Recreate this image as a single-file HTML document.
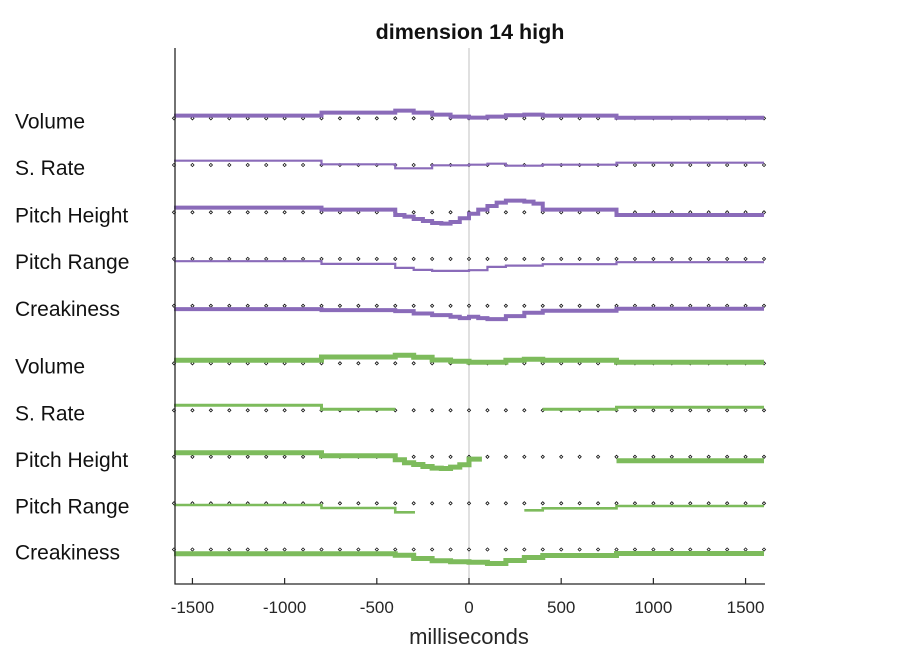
<!DOCTYPE html>
<html><head><meta charset="utf-8"><style>
body{margin:0;background:#fff;}
svg{display:block;font-family:"Liberation Sans",Arial,sans-serif;}
</style></head><body>
<svg id="chart" width="906" height="656" viewBox="0 0 906 656" xmlns="http://www.w3.org/2000/svg">
<rect width="906" height="656" fill="#fff"/>
<text x="470" y="39" text-anchor="middle" font-size="21.5" font-weight="bold" fill="#111">dimension 14 high</text>
<line x1="469" y1="48" x2="469" y2="584" stroke="#cccccc" stroke-width="1.2"/>
<g id="labels"></g>
<g id="dots"></g>
<g id="series"></g>
<line x1="175" y1="48" x2="175" y2="584.5" stroke="#262626" stroke-width="1.3"/>
<line x1="174.5" y1="584" x2="765" y2="584" stroke="#262626" stroke-width="1.3"/>
<g id="xticks"></g>
<text x="469" y="644" text-anchor="middle" font-size="22" fill="#262626">milliseconds</text>
</svg>
<script>
const NS="http://www.w3.org/2000/svg";
const xTicks=[-1500,-1000,-500,0,500,1000,1500];
const rowLabels=["Volume","S. Rate","Pitch Height","Pitch Range","Creakiness","Volume","S. Rate","Pitch Height","Pitch Range","Creakiness"];
// step series: start times (ms) and values (offset units above baseline; null = gap)
const pVolT=[-1600,-800,-400,-300,-200,-100,0,100,200,300,400,800];
const pVolV=[2.7,5.7,7.7,5.7,3.7,1.7,0.7,1.7,3,3.7,2.7,0.5];
const pRateT=[-1600,-800,-400,-200,0,100,200,400,800];
const pRateV=[4.3,0.7,-3.3,-0.3,0.3,1.3,-0.7,0.3,2.3];
const pPitchT=[-1600,-800,-400,-350,-300,-250,-200,-150,-100,-50,0,50,100,150,200,300,350,400,800];
const pPitchV=[4.7,2.7,-2.7,-4.3,-6.7,-8.7,-10.7,-11.3,-9.7,-6,-1.5,2.7,6.3,9.7,11.7,10.7,8.7,2.7,-2.7];
const pRangeT=[-1600,-800,-400,-300,-200,0,100,200,400,800];
const pRangeV=[-2.3,-5,-9,-11,-12,-11.3,-8,-6.7,-5.3,-3.3];
const pCreakT=[-1600,-800,-400,-300,-200,-100,-50,0,50,100,200,300,400,800];
const pCreakV=[-3.3,-4.3,-5.3,-7.7,-9.3,-11,-12.3,-11,-12.3,-13.3,-10.3,-7,-5,-3];
const gVolT=[-1600,-800,-400,-300,-200,-100,0,200,300,400,800];
const gVolV=[3,6.3,8,6,3.3,2,1,3,4,3,1];
const gRateT=[-1600,-800,-400,400,800];
const gRateV=[5,1,null,1,3];
const gPitchT=[-1600,-800,-400,-350,-300,-250,-200,-150,-100,-50,0,70,800];
const gPitchV=[4,1,-3,-6,-7.7,-9.7,-11.3,-11.7,-10.3,-8,-2.3,null,-4];
const gRangeT=[-1600,-800,-400,-293,300,400,800];
const gRangeV=[-1.7,-4.7,-9,null,-7,-5,-2.7];
const gCreakT=[-1600,-400,-300,-200,-100,0,100,200,300,400,800];
const gCreakV=[-4.3,-5.7,-9,-11.3,-12.3,-12.7,-14,-11,-8,-6,-4];

const x=ms=>469+(ms)*0.18438;
const baselines=[118.3,165,212.3,258.9,305.8,363.3,410.3,456.8,503.3,549.5];
const PURPLE="#8a6bb9",GREEN="#7dbb5c";
const rows=[
 [pVolT,pVolV,PURPLE,4,"purple-volume"],[pRateT,pRateV,PURPLE,2.2,"purple-speaking-rate"],
 [pPitchT,pPitchV,PURPLE,4,"purple-pitch-height"],[pRangeT,pRangeV,PURPLE,2.2,"purple-pitch-range"],
 [pCreakT,pCreakV,PURPLE,4,"purple-creakiness"],
 [gVolT,gVolV,GREEN,5,"green-volume"],[gRateT,gRateV,GREEN,3,"green-speaking-rate"],
 [gPitchT,gPitchV,GREEN,5,"green-pitch-height"],[gRangeT,gRangeV,GREEN,2.6,"green-pitch-range"],
 [gCreakT,gCreakV,GREEN,5,"green-creakiness"]];
const END=1600;

const lab=document.getElementById("labels");
rowLabels.forEach((t,i)=>{
 const e=document.createElementNS(NS,"text");
 e.setAttribute("x",15);e.setAttribute("y",baselines[i]+10);
 e.setAttribute("font-size","21");e.setAttribute("fill","#111");
 e.textContent=t;
 
 
 lab.appendChild(e);
});

const dots=document.getElementById("dots");
let dd="";
baselines.forEach(b=>{for(let ms=-1600;ms<=1600;ms+=100){const cx=x(ms);dd+=`M${cx-1.6},${b}L${cx},${b-1.6}L${cx+1.6},${b}L${cx},${b+1.6}Z`;}});
const dp=document.createElementNS(NS,"path");
dp.setAttribute("d",dd);dp.setAttribute("fill","#fff");dp.setAttribute("stroke","#111");dp.setAttribute("stroke-width","0.8");


dots.appendChild(dp);

const ser=document.getElementById("series");
rows.forEach((r,i)=>{
 const [T,V,col,w,name]=r;const b=baselines[i];
 let d="",open=false;
 for(let k=0;k<T.length;k++){
  const v=V[k];const t1=(k+1<T.length)?T[k+1]:END;
  if(v===null||v===undefined){open=false;continue;}
  const y=b-v;
  if(!open){d+=`M${x(T[k])},${y}`;open=true;}else{d+=`V${y}`;}
  d+=`H${x(t1)}`;
 }
 const p=document.createElementNS(NS,"path");
 p.setAttribute("d",d);p.setAttribute("fill","none");p.setAttribute("stroke",col);
 p.setAttribute("stroke-width",w);
 
 
 ser.appendChild(p);
});

const xt=document.getElementById("xticks");
xTicks.forEach(v=>{
 const l=document.createElementNS(NS,"line");
 l.setAttribute("x1",x(v));l.setAttribute("x2",x(v));l.setAttribute("y1",584);l.setAttribute("y2",578);
 l.setAttribute("stroke","#262626");l.setAttribute("stroke-width","1.2");
 
 
 xt.appendChild(l);
 const t=document.createElementNS(NS,"text");
 t.setAttribute("x",x(v));t.setAttribute("y",613);t.setAttribute("text-anchor","middle");
 t.setAttribute("font-size","17");t.setAttribute("fill","#262626");
 t.textContent=v;
 
 
 xt.appendChild(t);
});
</script>
</body></html>
